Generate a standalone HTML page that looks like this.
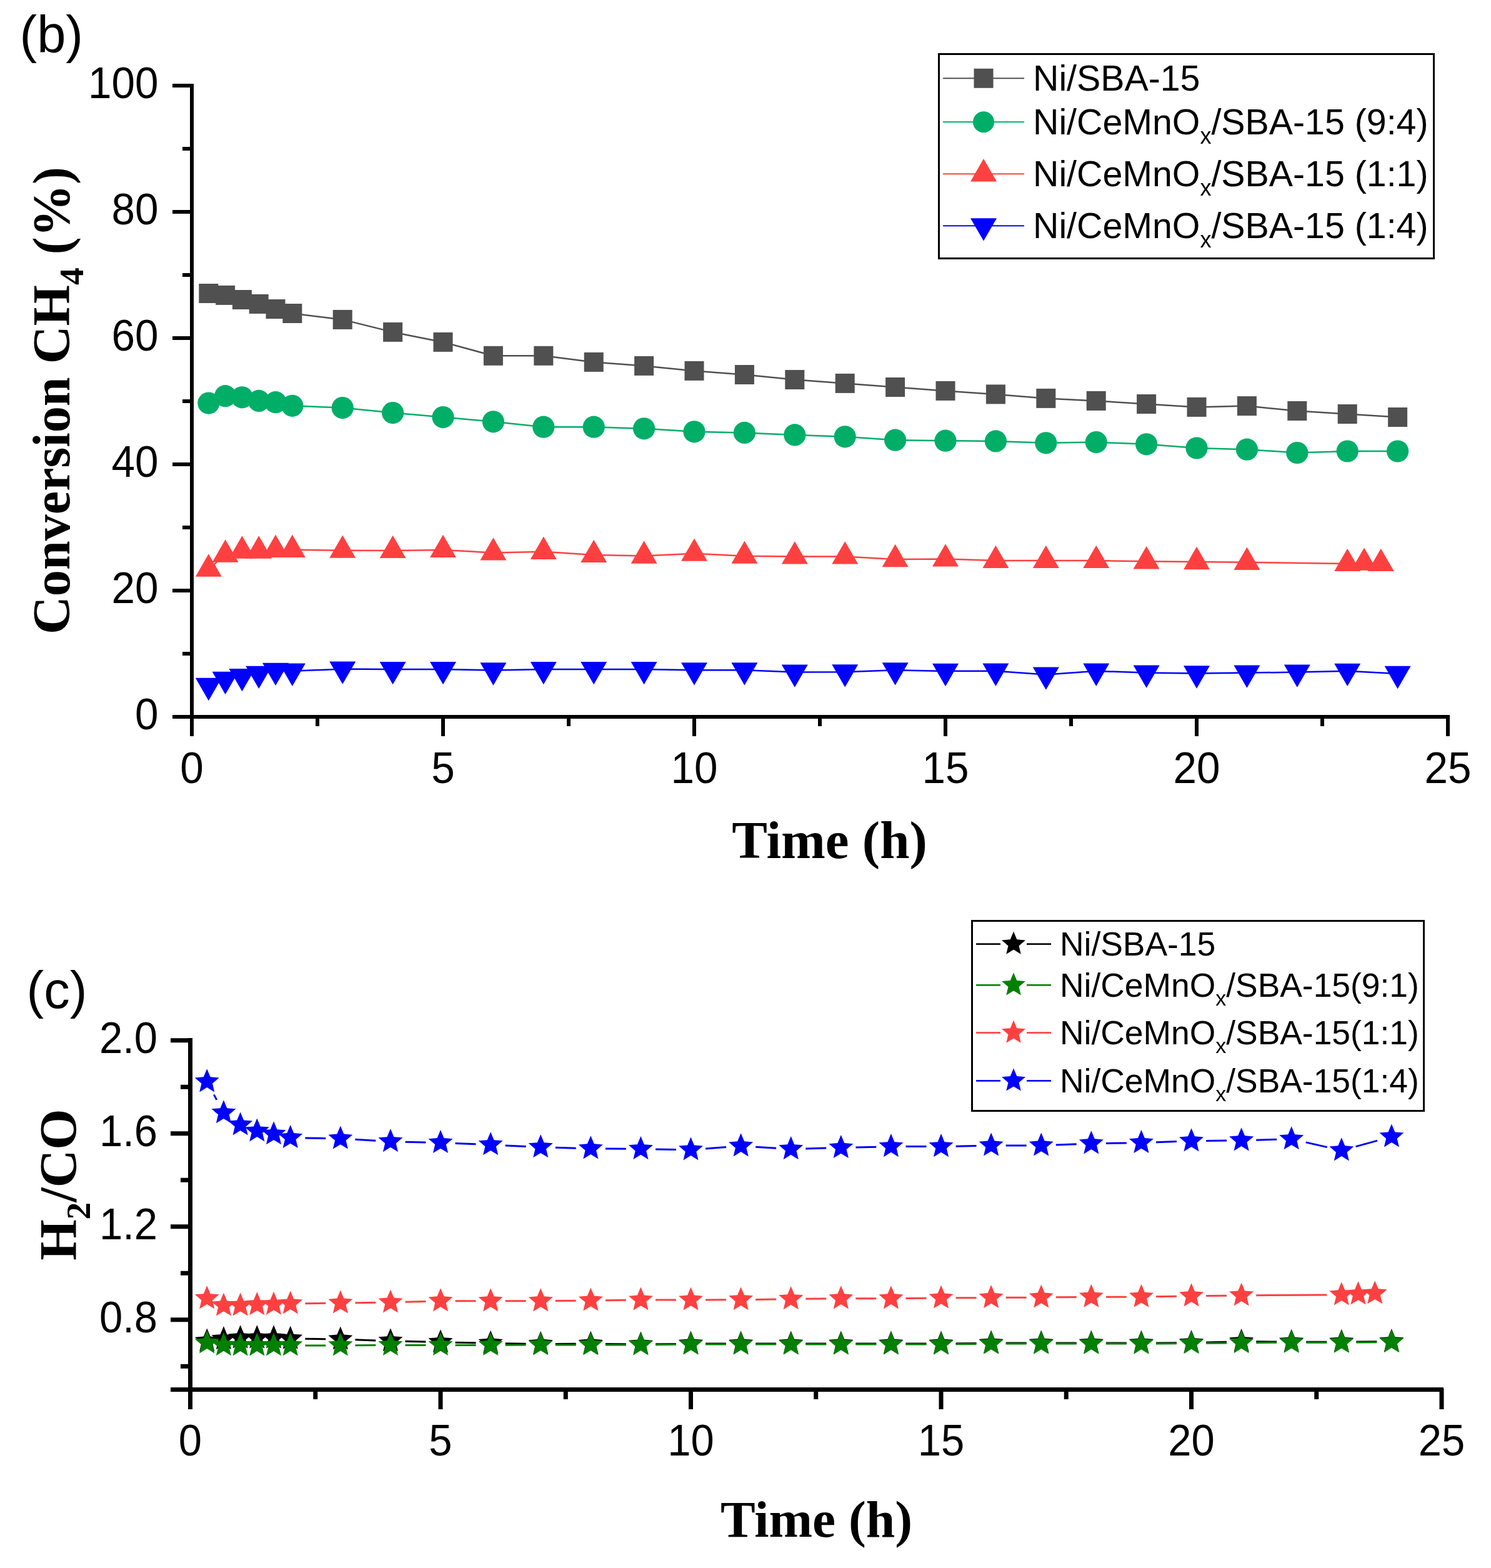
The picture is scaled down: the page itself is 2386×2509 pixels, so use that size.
<!DOCTYPE html><html><head><meta charset="utf-8"><title>Conversion CH4 and H2/CO vs time</title>
<style>html,body{margin:0;padding:0;background:#fff;}body{width:2386px;height:2509px;overflow:hidden;}svg{display:block;}</style>
</head><body>
<svg width="2386" height="2509" viewBox="0 0 2386 2509">
<rect width="2386" height="2509" fill="#fff"/>
<g fill="#000">
<rect x="304" y="134" width="6" height="1044"/>
<rect x="276" y="1144" width="2044" height="6"/>
<rect x="276" y="1144" width="30" height="6"/>
<rect x="276" y="942" width="30" height="6"/>
<rect x="276" y="740" width="30" height="6"/>
<rect x="276" y="538" width="30" height="6"/>
<rect x="276" y="336" width="30" height="6"/>
<rect x="276" y="134" width="30" height="6"/>
<rect x="292" y="1043" width="14" height="6"/>
<rect x="292" y="841" width="14" height="6"/>
<rect x="292" y="639" width="14" height="6"/>
<rect x="292" y="437" width="14" height="6"/>
<rect x="292" y="235" width="14" height="6"/>
<rect x="304" y="1146" width="6" height="32"/>
<rect x="706" y="1146" width="6" height="32"/>
<rect x="1108" y="1146" width="6" height="32"/>
<rect x="1510" y="1146" width="6" height="32"/>
<rect x="1912" y="1146" width="6" height="32"/>
<rect x="2314" y="1146" width="6" height="32"/>
<rect x="505" y="1146" width="6" height="16"/>
<rect x="907" y="1146" width="6" height="16"/>
<rect x="1309" y="1146" width="6" height="16"/>
<rect x="1711" y="1146" width="6" height="16"/>
<rect x="2113" y="1146" width="6" height="16"/>
</g>
<text transform="translate(253.5 1167.2) scale(0.95 1)" font-family="'Liberation Sans', Arial, sans-serif" font-size="71" text-anchor="end">0</text>
<text transform="translate(253.5 965.2) scale(0.95 1)" font-family="'Liberation Sans', Arial, sans-serif" font-size="71" text-anchor="end">20</text>
<text transform="translate(253.5 763.2) scale(0.95 1)" font-family="'Liberation Sans', Arial, sans-serif" font-size="71" text-anchor="end">40</text>
<text transform="translate(253.5 561.2) scale(0.95 1)" font-family="'Liberation Sans', Arial, sans-serif" font-size="71" text-anchor="end">60</text>
<text transform="translate(253.5 359.2) scale(0.95 1)" font-family="'Liberation Sans', Arial, sans-serif" font-size="71" text-anchor="end">80</text>
<text transform="translate(253.5 157.2) scale(0.95 1)" font-family="'Liberation Sans', Arial, sans-serif" font-size="71" text-anchor="end">100</text>
<text transform="translate(307 1253.3) scale(0.95 1)" font-family="'Liberation Sans', Arial, sans-serif" font-size="71" text-anchor="middle">0</text>
<text transform="translate(709 1253.3) scale(0.95 1)" font-family="'Liberation Sans', Arial, sans-serif" font-size="71" text-anchor="middle">5</text>
<text transform="translate(1111 1253.3) scale(0.95 1)" font-family="'Liberation Sans', Arial, sans-serif" font-size="71" text-anchor="middle">10</text>
<text transform="translate(1513 1253.3) scale(0.95 1)" font-family="'Liberation Sans', Arial, sans-serif" font-size="71" text-anchor="middle">15</text>
<text transform="translate(1915 1253.3) scale(0.95 1)" font-family="'Liberation Sans', Arial, sans-serif" font-size="71" text-anchor="middle">20</text>
<text transform="translate(2317 1253.3) scale(0.95 1)" font-family="'Liberation Sans', Arial, sans-serif" font-size="71" text-anchor="middle">25</text>
<text x="1327.5" y="1373" font-family="'Liberation Serif', 'Times New Roman', serif" font-size="85" font-weight="bold" text-anchor="middle">Time (h)</text>
<text transform="translate(111 641) rotate(-90)" x="0" y="0" font-family="'Liberation Serif', 'Times New Roman', serif" font-size="84.2" font-weight="bold" text-anchor="middle">Conversion CH<tspan font-size="55.5" dy="22">4</tspan><tspan dy="-22"> (%)</tspan></text>
<text x="31.5" y="83.5" font-family="'Liberation Sans', Arial, sans-serif" font-size="83" font-weight="normal" text-anchor="start">(b)</text>
<polyline points="333.8,469.5 360.6,472.4 387.4,479.5 414.2,486.4 441,494.5 467.8,501.5 548.2,511.4 628.6,531.4 709,547.4 789.4,569.3 869.8,569.3 950.2,579.4 1030.6,585.4 1111,593.4 1191.4,599.5 1271.8,607.5 1352.2,613.4 1432.6,619.5 1513,625.4 1593.4,630.9 1673.8,637.4 1754.2,641.4 1834.6,646.5 1915,651.4 1995.4,649.6 2075.8,657.5 2156.2,662.5 2236.6,667.5" fill="none" stroke="#505050" stroke-width="2.5" stroke-linejoin="round"/>
<rect x="318.3" y="454" width="31" height="31" fill="#505050"/>
<rect x="345.1" y="456.9" width="31" height="31" fill="#505050"/>
<rect x="371.9" y="464" width="31" height="31" fill="#505050"/>
<rect x="398.7" y="470.9" width="31" height="31" fill="#505050"/>
<rect x="425.5" y="479" width="31" height="31" fill="#505050"/>
<rect x="452.3" y="486" width="31" height="31" fill="#505050"/>
<rect x="532.7" y="495.9" width="31" height="31" fill="#505050"/>
<rect x="613.1" y="515.9" width="31" height="31" fill="#505050"/>
<rect x="693.5" y="531.9" width="31" height="31" fill="#505050"/>
<rect x="773.9" y="553.8" width="31" height="31" fill="#505050"/>
<rect x="854.3" y="553.8" width="31" height="31" fill="#505050"/>
<rect x="934.7" y="563.9" width="31" height="31" fill="#505050"/>
<rect x="1015.1" y="569.9" width="31" height="31" fill="#505050"/>
<rect x="1095.5" y="577.9" width="31" height="31" fill="#505050"/>
<rect x="1175.9" y="584" width="31" height="31" fill="#505050"/>
<rect x="1256.3" y="592" width="31" height="31" fill="#505050"/>
<rect x="1336.7" y="597.9" width="31" height="31" fill="#505050"/>
<rect x="1417.1" y="604" width="31" height="31" fill="#505050"/>
<rect x="1497.5" y="609.9" width="31" height="31" fill="#505050"/>
<rect x="1577.9" y="615.4" width="31" height="31" fill="#505050"/>
<rect x="1658.3" y="621.9" width="31" height="31" fill="#505050"/>
<rect x="1738.7" y="625.9" width="31" height="31" fill="#505050"/>
<rect x="1819.1" y="631" width="31" height="31" fill="#505050"/>
<rect x="1899.5" y="635.9" width="31" height="31" fill="#505050"/>
<rect x="1979.9" y="634.1" width="31" height="31" fill="#505050"/>
<rect x="2060.3" y="642" width="31" height="31" fill="#505050"/>
<rect x="2140.7" y="647" width="31" height="31" fill="#505050"/>
<rect x="2221.1" y="652" width="31" height="31" fill="#505050"/>
<polyline points="333.8,645.1 360.6,633.7 387.4,635.8 414.2,641.4 441,643.7 467.8,649.3 548.2,652.6 628.6,660.6 709,667.6 789.4,674.8 869.8,683.2 950.2,683.2 1030.6,685.8 1111,690.8 1191.4,692.4 1271.8,695.9 1352.2,698.8 1432.6,704.2 1513,705.2 1593.4,705.9 1673.8,708.8 1754.2,707.6 1834.6,710.8 1915,717 1995.4,719.2 2075.8,724.5 2156.2,722 2236.6,722" fill="none" stroke="#00AE68" stroke-width="2.5" stroke-linejoin="round"/>
<circle cx="333.8" cy="645.1" r="17.6" fill="#00AE68"/>
<circle cx="360.6" cy="633.7" r="17.6" fill="#00AE68"/>
<circle cx="387.4" cy="635.8" r="17.6" fill="#00AE68"/>
<circle cx="414.2" cy="641.4" r="17.6" fill="#00AE68"/>
<circle cx="441" cy="643.7" r="17.6" fill="#00AE68"/>
<circle cx="467.8" cy="649.3" r="17.6" fill="#00AE68"/>
<circle cx="548.2" cy="652.6" r="17.6" fill="#00AE68"/>
<circle cx="628.6" cy="660.6" r="17.6" fill="#00AE68"/>
<circle cx="709" cy="667.6" r="17.6" fill="#00AE68"/>
<circle cx="789.4" cy="674.8" r="17.6" fill="#00AE68"/>
<circle cx="869.8" cy="683.2" r="17.6" fill="#00AE68"/>
<circle cx="950.2" cy="683.2" r="17.6" fill="#00AE68"/>
<circle cx="1030.6" cy="685.8" r="17.6" fill="#00AE68"/>
<circle cx="1111" cy="690.8" r="17.6" fill="#00AE68"/>
<circle cx="1191.4" cy="692.4" r="17.6" fill="#00AE68"/>
<circle cx="1271.8" cy="695.9" r="17.6" fill="#00AE68"/>
<circle cx="1352.2" cy="698.8" r="17.6" fill="#00AE68"/>
<circle cx="1432.6" cy="704.2" r="17.6" fill="#00AE68"/>
<circle cx="1513" cy="705.2" r="17.6" fill="#00AE68"/>
<circle cx="1593.4" cy="705.9" r="17.6" fill="#00AE68"/>
<circle cx="1673.8" cy="708.8" r="17.6" fill="#00AE68"/>
<circle cx="1754.2" cy="707.6" r="17.6" fill="#00AE68"/>
<circle cx="1834.6" cy="710.8" r="17.6" fill="#00AE68"/>
<circle cx="1915" cy="717" r="17.6" fill="#00AE68"/>
<circle cx="1995.4" cy="719.2" r="17.6" fill="#00AE68"/>
<circle cx="2075.8" cy="724.5" r="17.6" fill="#00AE68"/>
<circle cx="2156.2" cy="722" r="17.6" fill="#00AE68"/>
<circle cx="2236.6" cy="722" r="17.6" fill="#00AE68"/>
<polyline points="333.8,910.6 360.6,887.6 387.4,881.6 414.2,881.6 441,879.8 467.8,879.8 548.2,880.7 628.6,881 709,880 789.4,884.5 869.8,882.8 950.2,887.9 1030.6,889.6 1111,885.7 1191.4,889.7 1271.8,890.5 1352.2,890.5 1432.6,895.1 1513,894.5 1593.4,897 1673.8,897 1754.2,897 1834.6,898.3 1915,899.1 1995.4,899.8 2156.2,902 2183,900.7 2209.8,902" fill="none" stroke="#FF4040" stroke-width="2.5" stroke-linejoin="round"/>
<path d="M333.8 886.35L354.8 922.72L312.8 922.72Z" fill="#FF4040"/>
<path d="M360.6 863.35L381.6 899.72L339.6 899.72Z" fill="#FF4040"/>
<path d="M387.4 857.35L408.4 893.72L366.4 893.72Z" fill="#FF4040"/>
<path d="M414.2 857.35L435.2 893.72L393.2 893.72Z" fill="#FF4040"/>
<path d="M441 855.55L462 891.92L420 891.92Z" fill="#FF4040"/>
<path d="M467.8 855.55L488.8 891.92L446.8 891.92Z" fill="#FF4040"/>
<path d="M548.2 856.45L569.2 892.82L527.2 892.82Z" fill="#FF4040"/>
<path d="M628.6 856.75L649.6 893.12L607.6 893.12Z" fill="#FF4040"/>
<path d="M709 855.75L730 892.12L688 892.12Z" fill="#FF4040"/>
<path d="M789.4 860.25L810.4 896.62L768.4 896.62Z" fill="#FF4040"/>
<path d="M869.8 858.55L890.8 894.92L848.8 894.92Z" fill="#FF4040"/>
<path d="M950.2 863.65L971.2 900.02L929.2 900.02Z" fill="#FF4040"/>
<path d="M1030.6 865.35L1051.6 901.72L1009.6 901.72Z" fill="#FF4040"/>
<path d="M1111 861.45L1132 897.82L1090 897.82Z" fill="#FF4040"/>
<path d="M1191.4 865.45L1212.4 901.82L1170.4 901.82Z" fill="#FF4040"/>
<path d="M1271.8 866.25L1292.8 902.62L1250.8 902.62Z" fill="#FF4040"/>
<path d="M1352.2 866.25L1373.2 902.62L1331.2 902.62Z" fill="#FF4040"/>
<path d="M1432.6 870.85L1453.6 907.22L1411.6 907.22Z" fill="#FF4040"/>
<path d="M1513 870.25L1534 906.62L1492 906.62Z" fill="#FF4040"/>
<path d="M1593.4 872.75L1614.4 909.12L1572.4 909.12Z" fill="#FF4040"/>
<path d="M1673.8 872.75L1694.8 909.12L1652.8 909.12Z" fill="#FF4040"/>
<path d="M1754.2 872.75L1775.2 909.12L1733.2 909.12Z" fill="#FF4040"/>
<path d="M1834.6 874.05L1855.6 910.42L1813.6 910.42Z" fill="#FF4040"/>
<path d="M1915 874.85L1936 911.22L1894 911.22Z" fill="#FF4040"/>
<path d="M1995.4 875.55L2016.4 911.92L1974.4 911.92Z" fill="#FF4040"/>
<path d="M2156.2 877.75L2177.2 914.12L2135.2 914.12Z" fill="#FF4040"/>
<path d="M2183 876.45L2204 912.82L2162 912.82Z" fill="#FF4040"/>
<path d="M2209.8 877.75L2230.8 914.12L2188.8 914.12Z" fill="#FF4040"/>
<polyline points="333.8,1096.9 360.6,1086.9 387.4,1082 414.2,1077.8 441,1072.8 467.8,1073.7 548.2,1070.6 628.6,1071 709,1071 789.4,1072.4 869.8,1071 950.2,1071 1030.6,1071 1111,1072.3 1191.4,1072.3 1271.8,1075.5 1352.2,1075.3 1432.6,1072.3 1513,1073.9 1593.4,1073.7 1673.8,1079.5 1754.2,1073.7 1834.6,1076.6 1915,1077.4 1995.4,1076.6 2075.8,1075.6 2156.2,1073.8 2236.6,1077.9" fill="none" stroke="#0000FF" stroke-width="2.5" stroke-linejoin="round"/>
<path d="M312.8 1084.78L354.8 1084.78L333.8 1121.15Z" fill="#0000FF"/>
<path d="M339.6 1074.78L381.6 1074.78L360.6 1111.15Z" fill="#0000FF"/>
<path d="M366.4 1069.88L408.4 1069.88L387.4 1106.25Z" fill="#0000FF"/>
<path d="M393.2 1065.68L435.2 1065.68L414.2 1102.05Z" fill="#0000FF"/>
<path d="M420 1060.68L462 1060.68L441 1097.05Z" fill="#0000FF"/>
<path d="M446.8 1061.58L488.8 1061.58L467.8 1097.95Z" fill="#0000FF"/>
<path d="M527.2 1058.48L569.2 1058.48L548.2 1094.85Z" fill="#0000FF"/>
<path d="M607.6 1058.88L649.6 1058.88L628.6 1095.25Z" fill="#0000FF"/>
<path d="M688 1058.88L730 1058.88L709 1095.25Z" fill="#0000FF"/>
<path d="M768.4 1060.28L810.4 1060.28L789.4 1096.65Z" fill="#0000FF"/>
<path d="M848.8 1058.88L890.8 1058.88L869.8 1095.25Z" fill="#0000FF"/>
<path d="M929.2 1058.88L971.2 1058.88L950.2 1095.25Z" fill="#0000FF"/>
<path d="M1009.6 1058.88L1051.6 1058.88L1030.6 1095.25Z" fill="#0000FF"/>
<path d="M1090 1060.18L1132 1060.18L1111 1096.55Z" fill="#0000FF"/>
<path d="M1170.4 1060.18L1212.4 1060.18L1191.4 1096.55Z" fill="#0000FF"/>
<path d="M1250.8 1063.38L1292.8 1063.38L1271.8 1099.75Z" fill="#0000FF"/>
<path d="M1331.2 1063.18L1373.2 1063.18L1352.2 1099.55Z" fill="#0000FF"/>
<path d="M1411.6 1060.18L1453.6 1060.18L1432.6 1096.55Z" fill="#0000FF"/>
<path d="M1492 1061.78L1534 1061.78L1513 1098.15Z" fill="#0000FF"/>
<path d="M1572.4 1061.58L1614.4 1061.58L1593.4 1097.95Z" fill="#0000FF"/>
<path d="M1652.8 1067.38L1694.8 1067.38L1673.8 1103.75Z" fill="#0000FF"/>
<path d="M1733.2 1061.58L1775.2 1061.58L1754.2 1097.95Z" fill="#0000FF"/>
<path d="M1813.6 1064.48L1855.6 1064.48L1834.6 1100.85Z" fill="#0000FF"/>
<path d="M1894 1065.28L1936 1065.28L1915 1101.65Z" fill="#0000FF"/>
<path d="M1974.4 1064.48L2016.4 1064.48L1995.4 1100.85Z" fill="#0000FF"/>
<path d="M2054.8 1063.48L2096.8 1063.48L2075.8 1099.85Z" fill="#0000FF"/>
<path d="M2135.2 1061.68L2177.2 1061.68L2156.2 1098.05Z" fill="#0000FF"/>
<path d="M2215.6 1065.78L2257.6 1065.78L2236.6 1102.15Z" fill="#0000FF"/>
<rect x="1502.5" y="86.5" width="792" height="327" fill="#fff" stroke="#000" stroke-width="3"/>
<rect x="1509" y="124.3" width="130" height="2" fill="#505050"/>
<rect x="1509" y="194.2" width="130" height="2" fill="#00AE68"/>
<rect x="1509" y="277.3" width="130" height="2" fill="#FF4040"/>
<rect x="1509" y="360.3" width="130" height="2" fill="#0000FF"/>
<rect x="1558.5" y="109.8" width="31" height="31" fill="#505050"/>
<circle cx="1574" cy="195.2" r="17" fill="#00AE68"/>
<path d="M1574 254.05L1595 290.42L1553 290.42Z" fill="#FF4040"/>
<path d="M1553 349.18L1595 349.18L1574 385.55Z" fill="#0000FF"/>
<text x="1653" y="144.9" font-family="'Liberation Sans', Arial, sans-serif" font-size="57.3" font-weight="normal" text-anchor="start">Ni/SBA-15</text>
<text x="1653" y="214.9" font-family="'Liberation Sans', Arial, sans-serif" font-size="57.3">Ni/CeMnO<tspan font-size="36" dy="15.4">x</tspan><tspan dy="-15.4">/SBA-15 (9:4)</tspan></text>
<text x="1653" y="298" font-family="'Liberation Sans', Arial, sans-serif" font-size="57.3">Ni/CeMnO<tspan font-size="36" dy="15.4">x</tspan><tspan dy="-15.4">/SBA-15 (1:1)</tspan></text>
<text x="1653" y="381" font-family="'Liberation Sans', Arial, sans-serif" font-size="57.3">Ni/CeMnO<tspan font-size="36" dy="15.4">x</tspan><tspan dy="-15.4">/SBA-15 (1:4)</tspan></text>
<g fill="#000">
<rect x="301" y="1661" width="7" height="594"/>
<rect x="273" y="2220" width="2037" height="7"/>
<rect x="273" y="2108.25" width="30" height="7"/>
<rect x="273" y="1959.25" width="30" height="7"/>
<rect x="273" y="1810.25" width="30" height="7"/>
<rect x="273" y="1661.25" width="30" height="7"/>
<rect x="289" y="2182.75" width="14" height="7"/>
<rect x="289" y="2033.75" width="14" height="7"/>
<rect x="289" y="1884.75" width="14" height="7"/>
<rect x="289" y="1735.75" width="14" height="7"/>
<rect x="301" y="2222" width="7" height="33"/>
<rect x="701.5" y="2222" width="7" height="33"/>
<rect x="1102" y="2222" width="7" height="33"/>
<rect x="1502.5" y="2222" width="7" height="33"/>
<rect x="1903" y="2222" width="7" height="33"/>
<rect x="2303.5" y="2222" width="7" height="33"/>
<rect x="501.25" y="2222" width="7" height="17"/>
<rect x="901.75" y="2222" width="7" height="17"/>
<rect x="1302.25" y="2222" width="7" height="17"/>
<rect x="1702.75" y="2222" width="7" height="17"/>
<rect x="2103.25" y="2222" width="7" height="17"/>
</g>
<text transform="translate(252 2132.05) scale(0.95 1)" font-family="'Liberation Sans', Arial, sans-serif" font-size="70.5" text-anchor="end">0.8</text>
<text transform="translate(252 1983.05) scale(0.95 1)" font-family="'Liberation Sans', Arial, sans-serif" font-size="70.5" text-anchor="end">1.2</text>
<text transform="translate(252 1834.05) scale(0.95 1)" font-family="'Liberation Sans', Arial, sans-serif" font-size="70.5" text-anchor="end">1.6</text>
<text transform="translate(252 1685.05) scale(0.95 1)" font-family="'Liberation Sans', Arial, sans-serif" font-size="70.5" text-anchor="end">2.0</text>
<text transform="translate(304.5 2328.8) scale(0.95 1)" font-family="'Liberation Sans', Arial, sans-serif" font-size="70.5" text-anchor="middle">0</text>
<text transform="translate(705 2328.8) scale(0.95 1)" font-family="'Liberation Sans', Arial, sans-serif" font-size="70.5" text-anchor="middle">5</text>
<text transform="translate(1105.5 2328.8) scale(0.95 1)" font-family="'Liberation Sans', Arial, sans-serif" font-size="70.5" text-anchor="middle">10</text>
<text transform="translate(1506 2328.8) scale(0.95 1)" font-family="'Liberation Sans', Arial, sans-serif" font-size="70.5" text-anchor="middle">15</text>
<text transform="translate(1906.5 2328.8) scale(0.95 1)" font-family="'Liberation Sans', Arial, sans-serif" font-size="70.5" text-anchor="middle">20</text>
<text transform="translate(2307 2328.8) scale(0.95 1)" font-family="'Liberation Sans', Arial, sans-serif" font-size="70.5" text-anchor="middle">25</text>
<text x="1306.5" y="2459" font-family="'Liberation Serif', 'Times New Roman', serif" font-size="83.5" font-weight="bold" text-anchor="middle">Time (h)</text>
<text transform="translate(121.8 1895.5) rotate(-90)" x="0" y="0" font-family="'Liberation Serif', 'Times New Roman', serif" font-size="84" font-weight="bold" text-anchor="middle">H<tspan font-size="55.5" dy="22.6">2</tspan><tspan dy="-22.6">/CO</tspan></text>
<text x="42.5" y="1613" font-family="'Liberation Sans', Arial, sans-serif" font-size="83" font-weight="normal" text-anchor="start">(c)</text>
<path d="M488.3 2142.37L521.2 2142.73M568.39 2143.8L601.31 2144.9M648.49 2146.29L681.41 2147.11M728.6 2148.17L761.5 2148.83M808.7 2149.65L841.6 2150.15M888.8 2150.44L921.7 2150.36M968.9 2150.54L1001.8 2150.86M1049 2150.81L1081.9 2150.39M1129.1 2150.1L1162 2150.1M1209.2 2150.1L1242.1 2150.1M1289.3 2150.1L1322.2 2150.1M1369.4 2150.1L1402.3 2150.1M1449.5 2150.1L1482.4 2150.1M1529.6 2149.81L1562.5 2149.39M1609.7 2149.1L1642.6 2149.1M1689.8 2149.1L1722.7 2149.1M1769.9 2149.1L1802.8 2149.1M1850 2148.95L1882.9 2148.75M1930.09 2148.01L1963.01 2147.19M2010.2 2146.78L2043.1 2147.02M2090.3 2147.2L2123.2 2147.2M2170.4 2147.02L2203.3 2146.78" fill="none" stroke="#000000" stroke-width="3"/>
<path d="M331.2 2125.5L336.62 2138.54L350.7 2139.67L339.97 2148.85L343.25 2162.58L331.2 2155.22L319.15 2162.58L322.43 2148.85L311.7 2139.67L325.78 2138.54Z" fill="#000000"/>
<path d="M357.9 2122.1L363.32 2135.14L377.4 2136.27L366.67 2145.45L369.95 2159.18L357.9 2151.82L345.85 2159.18L349.13 2145.45L338.4 2136.27L352.48 2135.14Z" fill="#000000"/>
<path d="M384.6 2120.3L390.02 2133.34L404.1 2134.47L393.37 2143.65L396.65 2157.38L384.6 2150.03L372.55 2157.38L375.83 2143.65L365.1 2134.47L379.18 2133.34Z" fill="#000000"/>
<path d="M411.3 2120.3L416.72 2133.34L430.8 2134.47L420.07 2143.65L423.35 2157.38L411.3 2150.03L399.25 2157.38L402.53 2143.65L391.8 2134.47L405.88 2133.34Z" fill="#000000"/>
<path d="M438 2120.3L443.42 2133.34L457.5 2134.47L446.77 2143.65L450.05 2157.38L438 2150.03L425.95 2157.38L429.23 2143.65L418.5 2134.47L432.58 2133.34Z" fill="#000000"/>
<path d="M464.7 2121.6L470.12 2134.64L484.2 2135.77L473.47 2144.95L476.75 2158.68L464.7 2151.32L452.65 2158.68L455.93 2144.95L445.2 2135.77L459.28 2134.64Z" fill="#000000"/>
<path d="M544.8 2122.5L550.22 2135.54L564.3 2136.67L553.57 2145.85L556.85 2159.58L544.8 2152.22L532.75 2159.58L536.03 2145.85L525.3 2136.67L539.38 2135.54Z" fill="#000000"/>
<path d="M624.9 2125.2L630.32 2138.24L644.4 2139.37L633.67 2148.55L636.95 2162.28L624.9 2154.92L612.85 2162.28L616.13 2148.55L605.4 2139.37L619.48 2138.24Z" fill="#000000"/>
<path d="M705 2127.2L710.42 2140.24L724.5 2141.37L713.77 2150.55L717.05 2164.28L705 2156.92L692.95 2164.28L696.23 2150.55L685.5 2141.37L699.58 2140.24Z" fill="#000000"/>
<path d="M785.1 2128.8L790.52 2141.84L804.6 2142.97L793.87 2152.15L797.15 2165.88L785.1 2158.53L773.05 2165.88L776.33 2152.15L765.6 2142.97L779.68 2141.84Z" fill="#000000"/>
<path d="M865.2 2130L870.62 2143.04L884.7 2144.17L873.97 2153.35L877.25 2167.08L865.2 2159.72L853.15 2167.08L856.43 2153.35L845.7 2144.17L859.78 2143.04Z" fill="#000000"/>
<path d="M945.3 2129.8L950.72 2142.84L964.8 2143.97L954.07 2153.15L957.35 2166.88L945.3 2159.53L933.25 2166.88L936.53 2153.15L925.8 2143.97L939.88 2142.84Z" fill="#000000"/>
<path d="M1025.4 2130.6L1030.82 2143.64L1044.9 2144.77L1034.17 2153.95L1037.45 2167.68L1025.4 2160.32L1013.35 2167.68L1016.63 2153.95L1005.9 2144.77L1019.98 2143.64Z" fill="#000000"/>
<path d="M1105.5 2129.6L1110.92 2142.64L1125 2143.77L1114.27 2152.95L1117.55 2166.68L1105.5 2159.32L1093.45 2166.68L1096.73 2152.95L1086 2143.77L1100.08 2142.64Z" fill="#000000"/>
<path d="M1185.6 2129.6L1191.02 2142.64L1205.1 2143.77L1194.37 2152.95L1197.65 2166.68L1185.6 2159.32L1173.55 2166.68L1176.83 2152.95L1166.1 2143.77L1180.18 2142.64Z" fill="#000000"/>
<path d="M1265.7 2129.6L1271.12 2142.64L1285.2 2143.77L1274.47 2152.95L1277.75 2166.68L1265.7 2159.32L1253.65 2166.68L1256.93 2152.95L1246.2 2143.77L1260.28 2142.64Z" fill="#000000"/>
<path d="M1345.8 2129.6L1351.22 2142.64L1365.3 2143.77L1354.57 2152.95L1357.85 2166.68L1345.8 2159.32L1333.75 2166.68L1337.03 2152.95L1326.3 2143.77L1340.38 2142.64Z" fill="#000000"/>
<path d="M1425.9 2129.6L1431.32 2142.64L1445.4 2143.77L1434.67 2152.95L1437.95 2166.68L1425.9 2159.32L1413.85 2166.68L1417.13 2152.95L1406.4 2143.77L1420.48 2142.64Z" fill="#000000"/>
<path d="M1506 2129.6L1511.42 2142.64L1525.5 2143.77L1514.77 2152.95L1518.05 2166.68L1506 2159.32L1493.95 2166.68L1497.23 2152.95L1486.5 2143.77L1500.58 2142.64Z" fill="#000000"/>
<path d="M1586.1 2128.6L1591.52 2141.64L1605.6 2142.77L1594.87 2151.95L1598.15 2165.68L1586.1 2158.32L1574.05 2165.68L1577.33 2151.95L1566.6 2142.77L1580.68 2141.64Z" fill="#000000"/>
<path d="M1666.2 2128.6L1671.62 2141.64L1685.7 2142.77L1674.97 2151.95L1678.25 2165.68L1666.2 2158.32L1654.15 2165.68L1657.43 2151.95L1646.7 2142.77L1660.78 2141.64Z" fill="#000000"/>
<path d="M1746.3 2128.6L1751.72 2141.64L1765.8 2142.77L1755.07 2151.95L1758.35 2165.68L1746.3 2158.32L1734.25 2165.68L1737.53 2151.95L1726.8 2142.77L1740.88 2141.64Z" fill="#000000"/>
<path d="M1826.4 2128.6L1831.82 2141.64L1845.9 2142.77L1835.17 2151.95L1838.45 2165.68L1826.4 2158.32L1814.35 2165.68L1817.63 2151.95L1806.9 2142.77L1820.98 2141.64Z" fill="#000000"/>
<path d="M1906.5 2128.1L1911.92 2141.14L1926 2142.27L1915.27 2151.45L1918.55 2165.18L1906.5 2157.82L1894.45 2165.18L1897.73 2151.45L1887 2142.27L1901.08 2141.14Z" fill="#000000"/>
<path d="M1986.6 2126.1L1992.02 2139.14L2006.1 2140.27L1995.37 2149.45L1998.65 2163.18L1986.6 2155.82L1974.55 2163.18L1977.83 2149.45L1967.1 2140.27L1981.18 2139.14Z" fill="#000000"/>
<path d="M2066.7 2126.7L2072.12 2139.74L2086.2 2140.87L2075.47 2150.05L2078.75 2163.78L2066.7 2156.42L2054.65 2163.78L2057.93 2150.05L2047.2 2140.87L2061.28 2139.74Z" fill="#000000"/>
<path d="M2146.8 2126.7L2152.22 2139.74L2166.3 2140.87L2155.57 2150.05L2158.85 2163.78L2146.8 2156.42L2134.75 2163.78L2138.03 2150.05L2127.3 2140.87L2141.38 2139.74Z" fill="#000000"/>
<path d="M2226.9 2126.1L2232.32 2139.14L2246.4 2140.27L2235.67 2149.45L2238.95 2163.18L2226.9 2155.82L2214.85 2163.18L2218.13 2149.45L2207.4 2140.27L2221.48 2139.14Z" fill="#000000"/>
<path d="M488.3 2152.9L521.2 2152.9M568.4 2152.78L601.3 2152.62M648.5 2152.5L681.4 2152.5M728.6 2152.5L761.5 2152.5M808.7 2152.32L841.6 2152.08M888.8 2151.9L921.7 2151.9M968.9 2151.9L1001.8 2151.9M1049 2151.66L1081.9 2151.34M1129.1 2151.1L1162 2151.1M1209.2 2151.1L1242.1 2151.1M1289.3 2151.1L1322.2 2151.1M1369.4 2151.1L1402.3 2151.1M1449.5 2151.1L1482.4 2151.1M1529.6 2150.81L1562.5 2150.39M1609.7 2150.1L1642.6 2150.1M1689.8 2150.1L1722.7 2150.1M1769.9 2150.1L1802.8 2150.1M1850 2149.95L1882.9 2149.75M1930.1 2149.31L1963 2148.89M2010.2 2148.48L2043.1 2148.32M2090.3 2148.2L2123.2 2148.2M2170.4 2148.02L2203.3 2147.78" fill="none" stroke="#008000" stroke-width="3"/>
<path d="M331.2 2128.4L336.62 2141.44L350.7 2142.57L339.97 2151.75L343.25 2165.48L331.2 2158.12L319.15 2165.48L322.43 2151.75L311.7 2142.57L325.78 2141.44Z" fill="#008000"/>
<path d="M357.9 2132.1L363.32 2145.14L377.4 2146.27L366.67 2155.45L369.95 2169.18L357.9 2161.82L345.85 2169.18L349.13 2155.45L338.4 2146.27L352.48 2145.14Z" fill="#008000"/>
<path d="M384.6 2132.4L390.02 2145.44L404.1 2146.57L393.37 2155.75L396.65 2169.48L384.6 2162.12L372.55 2169.48L375.83 2155.75L365.1 2146.57L379.18 2145.44Z" fill="#008000"/>
<path d="M411.3 2132.4L416.72 2145.44L430.8 2146.57L420.07 2155.75L423.35 2169.48L411.3 2162.12L399.25 2169.48L402.53 2155.75L391.8 2146.57L405.88 2145.44Z" fill="#008000"/>
<path d="M438 2132.4L443.42 2145.44L457.5 2146.57L446.77 2155.75L450.05 2169.48L438 2162.12L425.95 2169.48L429.23 2155.75L418.5 2146.57L432.58 2145.44Z" fill="#008000"/>
<path d="M464.7 2132.4L470.12 2145.44L484.2 2146.57L473.47 2155.75L476.75 2169.48L464.7 2162.12L452.65 2169.48L455.93 2155.75L445.2 2146.57L459.28 2145.44Z" fill="#008000"/>
<path d="M544.8 2132.4L550.22 2145.44L564.3 2146.57L553.57 2155.75L556.85 2169.48L544.8 2162.12L532.75 2169.48L536.03 2155.75L525.3 2146.57L539.38 2145.44Z" fill="#008000"/>
<path d="M624.9 2132L630.32 2145.04L644.4 2146.17L633.67 2155.35L636.95 2169.08L624.9 2161.72L612.85 2169.08L616.13 2155.35L605.4 2146.17L619.48 2145.04Z" fill="#008000"/>
<path d="M705 2132L710.42 2145.04L724.5 2146.17L713.77 2155.35L717.05 2169.08L705 2161.72L692.95 2169.08L696.23 2155.35L685.5 2146.17L699.58 2145.04Z" fill="#008000"/>
<path d="M785.1 2132L790.52 2145.04L804.6 2146.17L793.87 2155.35L797.15 2169.08L785.1 2161.72L773.05 2169.08L776.33 2155.35L765.6 2146.17L779.68 2145.04Z" fill="#008000"/>
<path d="M865.2 2131.4L870.62 2144.44L884.7 2145.57L873.97 2154.75L877.25 2168.48L865.2 2161.12L853.15 2168.48L856.43 2154.75L845.7 2145.57L859.78 2144.44Z" fill="#008000"/>
<path d="M945.3 2131.4L950.72 2144.44L964.8 2145.57L954.07 2154.75L957.35 2168.48L945.3 2161.12L933.25 2168.48L936.53 2154.75L925.8 2145.57L939.88 2144.44Z" fill="#008000"/>
<path d="M1025.4 2131.4L1030.82 2144.44L1044.9 2145.57L1034.17 2154.75L1037.45 2168.48L1025.4 2161.12L1013.35 2168.48L1016.63 2154.75L1005.9 2145.57L1019.98 2144.44Z" fill="#008000"/>
<path d="M1105.5 2130.6L1110.92 2143.64L1125 2144.77L1114.27 2153.95L1117.55 2167.68L1105.5 2160.32L1093.45 2167.68L1096.73 2153.95L1086 2144.77L1100.08 2143.64Z" fill="#008000"/>
<path d="M1185.6 2130.6L1191.02 2143.64L1205.1 2144.77L1194.37 2153.95L1197.65 2167.68L1185.6 2160.32L1173.55 2167.68L1176.83 2153.95L1166.1 2144.77L1180.18 2143.64Z" fill="#008000"/>
<path d="M1265.7 2130.6L1271.12 2143.64L1285.2 2144.77L1274.47 2153.95L1277.75 2167.68L1265.7 2160.32L1253.65 2167.68L1256.93 2153.95L1246.2 2144.77L1260.28 2143.64Z" fill="#008000"/>
<path d="M1345.8 2130.6L1351.22 2143.64L1365.3 2144.77L1354.57 2153.95L1357.85 2167.68L1345.8 2160.32L1333.75 2167.68L1337.03 2153.95L1326.3 2144.77L1340.38 2143.64Z" fill="#008000"/>
<path d="M1425.9 2130.6L1431.32 2143.64L1445.4 2144.77L1434.67 2153.95L1437.95 2167.68L1425.9 2160.32L1413.85 2167.68L1417.13 2153.95L1406.4 2144.77L1420.48 2143.64Z" fill="#008000"/>
<path d="M1506 2130.6L1511.42 2143.64L1525.5 2144.77L1514.77 2153.95L1518.05 2167.68L1506 2160.32L1493.95 2167.68L1497.23 2153.95L1486.5 2144.77L1500.58 2143.64Z" fill="#008000"/>
<path d="M1586.1 2129.6L1591.52 2142.64L1605.6 2143.77L1594.87 2152.95L1598.15 2166.68L1586.1 2159.32L1574.05 2166.68L1577.33 2152.95L1566.6 2143.77L1580.68 2142.64Z" fill="#008000"/>
<path d="M1666.2 2129.6L1671.62 2142.64L1685.7 2143.77L1674.97 2152.95L1678.25 2166.68L1666.2 2159.32L1654.15 2166.68L1657.43 2152.95L1646.7 2143.77L1660.78 2142.64Z" fill="#008000"/>
<path d="M1746.3 2129.6L1751.72 2142.64L1765.8 2143.77L1755.07 2152.95L1758.35 2166.68L1746.3 2159.32L1734.25 2166.68L1737.53 2152.95L1726.8 2143.77L1740.88 2142.64Z" fill="#008000"/>
<path d="M1826.4 2129.6L1831.82 2142.64L1845.9 2143.77L1835.17 2152.95L1838.45 2166.68L1826.4 2159.32L1814.35 2166.68L1817.63 2152.95L1806.9 2143.77L1820.98 2142.64Z" fill="#008000"/>
<path d="M1906.5 2129.1L1911.92 2142.14L1926 2143.27L1915.27 2152.45L1918.55 2166.18L1906.5 2158.82L1894.45 2166.18L1897.73 2152.45L1887 2143.27L1901.08 2142.14Z" fill="#008000"/>
<path d="M1986.6 2128.1L1992.02 2141.14L2006.1 2142.27L1995.37 2151.45L1998.65 2165.18L1986.6 2157.82L1974.55 2165.18L1977.83 2151.45L1967.1 2142.27L1981.18 2141.14Z" fill="#008000"/>
<path d="M2066.7 2127.7L2072.12 2140.74L2086.2 2141.87L2075.47 2151.05L2078.75 2164.78L2066.7 2157.42L2054.65 2164.78L2057.93 2151.05L2047.2 2141.87L2061.28 2140.74Z" fill="#008000"/>
<path d="M2146.8 2127.7L2152.22 2140.74L2166.3 2141.87L2155.57 2151.05L2158.85 2164.78L2146.8 2157.42L2134.75 2164.78L2138.03 2151.05L2127.3 2141.87L2141.38 2140.74Z" fill="#008000"/>
<path d="M2226.9 2127.1L2232.32 2140.14L2246.4 2141.27L2235.67 2150.45L2238.95 2164.18L2226.9 2156.82L2214.85 2164.18L2218.13 2150.45L2207.4 2141.27L2221.48 2140.14Z" fill="#008000"/>
<path d="M488.3 2085.63L521.2 2085.27M568.4 2084.71L601.3 2084.29M648.49 2083.35L681.41 2082.45M728.6 2081.8L761.5 2081.8M808.7 2081.8L841.6 2081.8M888.8 2081.56L921.7 2081.24M968.9 2080.71L1001.8 2080.29M1049 2080L1081.9 2080M1129.1 2079.91L1162 2079.79M1209.2 2079.38L1242.1 2078.92M1289.3 2078.36L1322.2 2078.04M1369.4 2077.8L1402.3 2077.8M1449.5 2077.56L1482.4 2077.24M1529.6 2076.85L1562.5 2076.65M1609.7 2076.35L1642.6 2076.15M1689.8 2075.76L1722.7 2075.44M1769.9 2075.2L1802.8 2075.2M1850 2074.79L1882.9 2074.21M1930.1 2073.53L1963 2073.17M2010.2 2072.74L2123.2 2071.96" fill="none" stroke="#FF4040" stroke-width="3"/>
<path d="M331.2 2057.2L336.62 2070.24L350.7 2071.37L339.97 2080.55L343.25 2094.28L331.2 2086.92L319.15 2094.28L322.43 2080.55L311.7 2071.37L325.78 2070.24Z" fill="#FF4040"/>
<path d="M357.9 2068.5L363.32 2081.54L377.4 2082.67L366.67 2091.85L369.95 2105.58L357.9 2098.22L345.85 2105.58L349.13 2091.85L338.4 2082.67L352.48 2081.54Z" fill="#FF4040"/>
<path d="M384.6 2068.5L390.02 2081.54L404.1 2082.67L393.37 2091.85L396.65 2105.58L384.6 2098.22L372.55 2105.58L375.83 2091.85L365.1 2082.67L379.18 2081.54Z" fill="#FF4040"/>
<path d="M411.3 2067.2L416.72 2080.24L430.8 2081.37L420.07 2090.55L423.35 2104.28L411.3 2096.92L399.25 2104.28L402.53 2090.55L391.8 2081.37L405.88 2080.24Z" fill="#FF4040"/>
<path d="M438 2066.6L443.42 2079.64L457.5 2080.77L446.77 2089.95L450.05 2103.68L438 2096.32L425.95 2103.68L429.23 2089.95L418.5 2080.77L432.58 2079.64Z" fill="#FF4040"/>
<path d="M464.7 2065.4L470.12 2078.44L484.2 2079.57L473.47 2088.75L476.75 2102.48L464.7 2095.12L452.65 2102.48L455.93 2088.75L445.2 2079.57L459.28 2078.44Z" fill="#FF4040"/>
<path d="M544.8 2064.5L550.22 2077.54L564.3 2078.67L553.57 2087.85L556.85 2101.58L544.8 2094.22L532.75 2101.58L536.03 2087.85L525.3 2078.67L539.38 2077.54Z" fill="#FF4040"/>
<path d="M624.9 2063.5L630.32 2076.54L644.4 2077.67L633.67 2086.85L636.95 2100.58L624.9 2093.22L612.85 2100.58L616.13 2086.85L605.4 2077.67L619.48 2076.54Z" fill="#FF4040"/>
<path d="M705 2061.3L710.42 2074.34L724.5 2075.47L713.77 2084.65L717.05 2098.38L705 2091.03L692.95 2098.38L696.23 2084.65L685.5 2075.47L699.58 2074.34Z" fill="#FF4040"/>
<path d="M785.1 2061.3L790.52 2074.34L804.6 2075.47L793.87 2084.65L797.15 2098.38L785.1 2091.03L773.05 2098.38L776.33 2084.65L765.6 2075.47L779.68 2074.34Z" fill="#FF4040"/>
<path d="M865.2 2061.3L870.62 2074.34L884.7 2075.47L873.97 2084.65L877.25 2098.38L865.2 2091.03L853.15 2098.38L856.43 2084.65L845.7 2075.47L859.78 2074.34Z" fill="#FF4040"/>
<path d="M945.3 2060.5L950.72 2073.54L964.8 2074.67L954.07 2083.85L957.35 2097.58L945.3 2090.22L933.25 2097.58L936.53 2083.85L925.8 2074.67L939.88 2073.54Z" fill="#FF4040"/>
<path d="M1025.4 2059.5L1030.82 2072.54L1044.9 2073.67L1034.17 2082.85L1037.45 2096.58L1025.4 2089.22L1013.35 2096.58L1016.63 2082.85L1005.9 2073.67L1019.98 2072.54Z" fill="#FF4040"/>
<path d="M1105.5 2059.5L1110.92 2072.54L1125 2073.67L1114.27 2082.85L1117.55 2096.58L1105.5 2089.22L1093.45 2096.58L1096.73 2082.85L1086 2073.67L1100.08 2072.54Z" fill="#FF4040"/>
<path d="M1185.6 2059.2L1191.02 2072.24L1205.1 2073.37L1194.37 2082.55L1197.65 2096.28L1185.6 2088.92L1173.55 2096.28L1176.83 2082.55L1166.1 2073.37L1180.18 2072.24Z" fill="#FF4040"/>
<path d="M1265.7 2058.1L1271.12 2071.14L1285.2 2072.27L1274.47 2081.45L1277.75 2095.18L1265.7 2087.82L1253.65 2095.18L1256.93 2081.45L1246.2 2072.27L1260.28 2071.14Z" fill="#FF4040"/>
<path d="M1345.8 2057.3L1351.22 2070.34L1365.3 2071.47L1354.57 2080.65L1357.85 2094.38L1345.8 2087.03L1333.75 2094.38L1337.03 2080.65L1326.3 2071.47L1340.38 2070.34Z" fill="#FF4040"/>
<path d="M1425.9 2057.3L1431.32 2070.34L1445.4 2071.47L1434.67 2080.65L1437.95 2094.38L1425.9 2087.03L1413.85 2094.38L1417.13 2080.65L1406.4 2071.47L1420.48 2070.34Z" fill="#FF4040"/>
<path d="M1506 2056.5L1511.42 2069.54L1525.5 2070.67L1514.77 2079.85L1518.05 2093.58L1506 2086.22L1493.95 2093.58L1497.23 2079.85L1486.5 2070.67L1500.58 2069.54Z" fill="#FF4040"/>
<path d="M1586.1 2056L1591.52 2069.04L1605.6 2070.17L1594.87 2079.35L1598.15 2093.08L1586.1 2085.72L1574.05 2093.08L1577.33 2079.35L1566.6 2070.17L1580.68 2069.04Z" fill="#FF4040"/>
<path d="M1666.2 2055.5L1671.62 2068.54L1685.7 2069.67L1674.97 2078.85L1678.25 2092.58L1666.2 2085.22L1654.15 2092.58L1657.43 2078.85L1646.7 2069.67L1660.78 2068.54Z" fill="#FF4040"/>
<path d="M1746.3 2054.7L1751.72 2067.74L1765.8 2068.87L1755.07 2078.05L1758.35 2091.78L1746.3 2084.42L1734.25 2091.78L1737.53 2078.05L1726.8 2068.87L1740.88 2067.74Z" fill="#FF4040"/>
<path d="M1826.4 2054.7L1831.82 2067.74L1845.9 2068.87L1835.17 2078.05L1838.45 2091.78L1826.4 2084.42L1814.35 2091.78L1817.63 2078.05L1806.9 2068.87L1820.98 2067.74Z" fill="#FF4040"/>
<path d="M1906.5 2053.3L1911.92 2066.34L1926 2067.47L1915.27 2076.65L1918.55 2090.38L1906.5 2083.03L1894.45 2090.38L1897.73 2076.65L1887 2067.47L1901.08 2066.34Z" fill="#FF4040"/>
<path d="M1986.6 2052.4L1992.02 2065.44L2006.1 2066.57L1995.37 2075.75L1998.65 2089.48L1986.6 2082.12L1974.55 2089.48L1977.83 2075.75L1967.1 2066.57L1981.18 2065.44Z" fill="#FF4040"/>
<path d="M2146.8 2051.3L2152.22 2064.34L2166.3 2065.47L2155.57 2074.65L2158.85 2088.38L2146.8 2081.03L2134.75 2088.38L2138.03 2074.65L2127.3 2065.47L2141.38 2064.34Z" fill="#FF4040"/>
<path d="M2173.5 2050.3L2178.92 2063.34L2193 2064.47L2182.27 2073.65L2185.55 2087.38L2173.5 2080.03L2161.45 2087.38L2164.73 2073.65L2154 2064.47L2168.08 2063.34Z" fill="#FF4040"/>
<path d="M2200.2 2049.2L2205.62 2062.24L2219.7 2063.37L2208.97 2072.55L2212.25 2086.28L2200.2 2078.92L2188.15 2086.28L2191.43 2072.55L2180.7 2063.37L2194.78 2062.24Z" fill="#FF4040"/>
<path d="M342.33 1751.61L346.77 1759.89M488.3 1820.94L521.2 1821.56M568.36 1823.35L601.34 1825.25M648.49 1827.16L681.41 1827.94M728.58 1829.44L761.52 1830.76M808.67 1832.88L841.63 1834.52M888.79 1836.32L921.71 1837.18M968.9 1838.04L1001.8 1838.36M1049 1838.98L1081.9 1839.52M1129.03 1838.11L1162.07 1835.59M1209.16 1835.21L1242.14 1837.19M1289.29 1837.98L1322.21 1837.12M1369.39 1835.94L1402.31 1835.16M1449.5 1834.6L1482.4 1834.6M1529.6 1834.13L1562.5 1833.47M1609.7 1833L1642.6 1833M1689.78 1832.06L1722.72 1830.74M1769.9 1829.42L1802.8 1828.88M1849.99 1827.7L1882.91 1826.6M1930.1 1825.51L1963 1825.09M2010.19 1824.18L2043.11 1823.32M2089.72 1827.9L2123.78 1835.6M2169.56 1834.58L2204.14 1825.12" fill="none" stroke="#0000FF" stroke-width="3"/>
<path d="M331.2 1710.3L336.62 1723.34L350.7 1724.47L339.97 1733.65L343.25 1747.38L331.2 1740.02L319.15 1747.38L322.43 1733.65L311.7 1724.47L325.78 1723.34Z" fill="#0000FF"/>
<path d="M357.9 1760.2L363.32 1773.24L377.4 1774.37L366.67 1783.55L369.95 1797.28L357.9 1789.92L345.85 1797.28L349.13 1783.55L338.4 1774.37L352.48 1773.24Z" fill="#0000FF"/>
<path d="M384.6 1779.4L390.02 1792.44L404.1 1793.57L393.37 1802.75L396.65 1816.48L384.6 1809.12L372.55 1816.48L375.83 1802.75L365.1 1793.57L379.18 1792.44Z" fill="#0000FF"/>
<path d="M411.3 1789.4L416.72 1802.44L430.8 1803.57L420.07 1812.75L423.35 1826.48L411.3 1819.12L399.25 1826.48L402.53 1812.75L391.8 1803.57L405.88 1802.44Z" fill="#0000FF"/>
<path d="M438 1794.2L443.42 1807.24L457.5 1808.37L446.77 1817.55L450.05 1831.28L438 1823.92L425.95 1831.28L429.23 1817.55L418.5 1808.37L432.58 1807.24Z" fill="#0000FF"/>
<path d="M464.7 1800L470.12 1813.04L484.2 1814.17L473.47 1823.35L476.75 1837.08L464.7 1829.72L452.65 1837.08L455.93 1823.35L445.2 1814.17L459.28 1813.04Z" fill="#0000FF"/>
<path d="M544.8 1801.5L550.22 1814.54L564.3 1815.67L553.57 1824.85L556.85 1838.58L544.8 1831.22L532.75 1838.58L536.03 1824.85L525.3 1815.67L539.38 1814.54Z" fill="#0000FF"/>
<path d="M624.9 1806.1L630.32 1819.14L644.4 1820.27L633.67 1829.45L636.95 1843.18L624.9 1835.82L612.85 1843.18L616.13 1829.45L605.4 1820.27L619.48 1819.14Z" fill="#0000FF"/>
<path d="M705 1808L710.42 1821.04L724.5 1822.17L713.77 1831.35L717.05 1845.08L705 1837.72L692.95 1845.08L696.23 1831.35L685.5 1822.17L699.58 1821.04Z" fill="#0000FF"/>
<path d="M785.1 1811.2L790.52 1824.24L804.6 1825.37L793.87 1834.55L797.15 1848.28L785.1 1840.92L773.05 1848.28L776.33 1834.55L765.6 1825.37L779.68 1824.24Z" fill="#0000FF"/>
<path d="M865.2 1815.2L870.62 1828.24L884.7 1829.37L873.97 1838.55L877.25 1852.28L865.2 1844.92L853.15 1852.28L856.43 1838.55L845.7 1829.37L859.78 1828.24Z" fill="#0000FF"/>
<path d="M945.3 1817.3L950.72 1830.34L964.8 1831.47L954.07 1840.65L957.35 1854.38L945.3 1847.02L933.25 1854.38L936.53 1840.65L925.8 1831.47L939.88 1830.34Z" fill="#0000FF"/>
<path d="M1025.4 1818.1L1030.82 1831.14L1044.9 1832.27L1034.17 1841.45L1037.45 1855.18L1025.4 1847.82L1013.35 1855.18L1016.63 1841.45L1005.9 1832.27L1019.98 1831.14Z" fill="#0000FF"/>
<path d="M1105.5 1819.4L1110.92 1832.44L1125 1833.57L1114.27 1842.75L1117.55 1856.48L1105.5 1849.12L1093.45 1856.48L1096.73 1842.75L1086 1833.57L1100.08 1832.44Z" fill="#0000FF"/>
<path d="M1185.6 1813.3L1191.02 1826.34L1205.1 1827.47L1194.37 1836.65L1197.65 1850.38L1185.6 1843.02L1173.55 1850.38L1176.83 1836.65L1166.1 1827.47L1180.18 1826.34Z" fill="#0000FF"/>
<path d="M1265.7 1818.1L1271.12 1831.14L1285.2 1832.27L1274.47 1841.45L1277.75 1855.18L1265.7 1847.82L1253.65 1855.18L1256.93 1841.45L1246.2 1832.27L1260.28 1831.14Z" fill="#0000FF"/>
<path d="M1345.8 1816L1351.22 1829.04L1365.3 1830.17L1354.57 1839.35L1357.85 1853.08L1345.8 1845.72L1333.75 1853.08L1337.03 1839.35L1326.3 1830.17L1340.38 1829.04Z" fill="#0000FF"/>
<path d="M1425.9 1814.1L1431.32 1827.14L1445.4 1828.27L1434.67 1837.45L1437.95 1851.18L1425.9 1843.82L1413.85 1851.18L1417.13 1837.45L1406.4 1828.27L1420.48 1827.14Z" fill="#0000FF"/>
<path d="M1506 1814.1L1511.42 1827.14L1525.5 1828.27L1514.77 1837.45L1518.05 1851.18L1506 1843.82L1493.95 1851.18L1497.23 1837.45L1486.5 1828.27L1500.58 1827.14Z" fill="#0000FF"/>
<path d="M1586.1 1812.5L1591.52 1825.54L1605.6 1826.67L1594.87 1835.85L1598.15 1849.58L1586.1 1842.22L1574.05 1849.58L1577.33 1835.85L1566.6 1826.67L1580.68 1825.54Z" fill="#0000FF"/>
<path d="M1666.2 1812.5L1671.62 1825.54L1685.7 1826.67L1674.97 1835.85L1678.25 1849.58L1666.2 1842.22L1654.15 1849.58L1657.43 1835.85L1646.7 1826.67L1660.78 1825.54Z" fill="#0000FF"/>
<path d="M1746.3 1809.3L1751.72 1822.34L1765.8 1823.47L1755.07 1832.65L1758.35 1846.38L1746.3 1839.02L1734.25 1846.38L1737.53 1832.65L1726.8 1823.47L1740.88 1822.34Z" fill="#0000FF"/>
<path d="M1826.4 1808L1831.82 1821.04L1845.9 1822.17L1835.17 1831.35L1838.45 1845.08L1826.4 1837.72L1814.35 1845.08L1817.63 1831.35L1806.9 1822.17L1820.98 1821.04Z" fill="#0000FF"/>
<path d="M1906.5 1805.3L1911.92 1818.34L1926 1819.47L1915.27 1828.65L1918.55 1842.38L1906.5 1835.02L1894.45 1842.38L1897.73 1828.65L1887 1819.47L1901.08 1818.34Z" fill="#0000FF"/>
<path d="M1986.6 1804.3L1992.02 1817.34L2006.1 1818.47L1995.37 1827.65L1998.65 1841.38L1986.6 1834.02L1974.55 1841.38L1977.83 1827.65L1967.1 1818.47L1981.18 1817.34Z" fill="#0000FF"/>
<path d="M2066.7 1802.2L2072.12 1815.24L2086.2 1816.37L2075.47 1825.55L2078.75 1839.28L2066.7 1831.92L2054.65 1839.28L2057.93 1825.55L2047.2 1816.37L2061.28 1815.24Z" fill="#0000FF"/>
<path d="M2146.8 1820.3L2152.22 1833.34L2166.3 1834.47L2155.57 1843.65L2158.85 1857.38L2146.8 1850.02L2134.75 1857.38L2138.03 1843.65L2127.3 1834.47L2141.38 1833.34Z" fill="#0000FF"/>
<path d="M2226.9 1798.4L2232.32 1811.44L2246.4 1812.57L2235.67 1821.75L2238.95 1835.48L2226.9 1828.12L2214.85 1835.48L2218.13 1821.75L2207.4 1812.57L2221.48 1811.44Z" fill="#0000FF"/>
<rect x="1555.5" y="1473.5" width="723" height="304" fill="#fff" stroke="#000" stroke-width="3"/>
<rect x="1562" y="1509.3" width="39" height="2.6" fill="#000000"/>
<rect x="1643" y="1509.3" width="39" height="2.6" fill="#000000"/>
<path d="M1622 1490.6L1627.29 1503.32L1641.02 1504.42L1630.56 1513.38L1633.76 1526.78L1622 1519.6L1610.24 1526.78L1613.44 1513.38L1602.98 1504.42L1616.71 1503.32Z" fill="#000000"/>
<rect x="1562" y="1575" width="39" height="2.6" fill="#008000"/>
<rect x="1643" y="1575" width="39" height="2.6" fill="#008000"/>
<path d="M1622 1556.3L1627.29 1569.02L1641.02 1570.12L1630.56 1579.08L1633.76 1592.48L1622 1585.3L1610.24 1592.48L1613.44 1579.08L1602.98 1570.12L1616.71 1569.02Z" fill="#008000"/>
<rect x="1562" y="1651.2" width="39" height="2.6" fill="#FF4040"/>
<rect x="1643" y="1651.2" width="39" height="2.6" fill="#FF4040"/>
<path d="M1622 1632.5L1627.29 1645.22L1641.02 1646.32L1630.56 1655.28L1633.76 1668.68L1622 1661.5L1610.24 1668.68L1613.44 1655.28L1602.98 1646.32L1616.71 1645.22Z" fill="#FF4040"/>
<rect x="1562" y="1728.1" width="39" height="2.6" fill="#0000FF"/>
<rect x="1643" y="1728.1" width="39" height="2.6" fill="#0000FF"/>
<path d="M1622 1709.4L1627.29 1722.12L1641.02 1723.22L1630.56 1732.18L1633.76 1745.58L1622 1738.4L1610.24 1745.58L1613.44 1732.18L1602.98 1723.22L1616.71 1722.12Z" fill="#0000FF"/>
<text x="1696" y="1529" font-family="'Liberation Sans', Arial, sans-serif" font-size="53.4" font-weight="normal" text-anchor="start">Ni/SBA-15</text>
<text x="1696" y="1594.6" font-family="'Liberation Sans', Arial, sans-serif" font-size="53.4">Ni/CeMnO<tspan font-size="34" dy="14.5">x</tspan><tspan dy="-14.5">/SBA-15(9:1)</tspan></text>
<text x="1696" y="1670.8" font-family="'Liberation Sans', Arial, sans-serif" font-size="53.4">Ni/CeMnO<tspan font-size="34" dy="14.5">x</tspan><tspan dy="-14.5">/SBA-15(1:1)</tspan></text>
<text x="1696" y="1747.7" font-family="'Liberation Sans', Arial, sans-serif" font-size="53.4">Ni/CeMnO<tspan font-size="34" dy="14.5">x</tspan><tspan dy="-14.5">/SBA-15(1:4)</tspan></text>
</svg></body></html>
